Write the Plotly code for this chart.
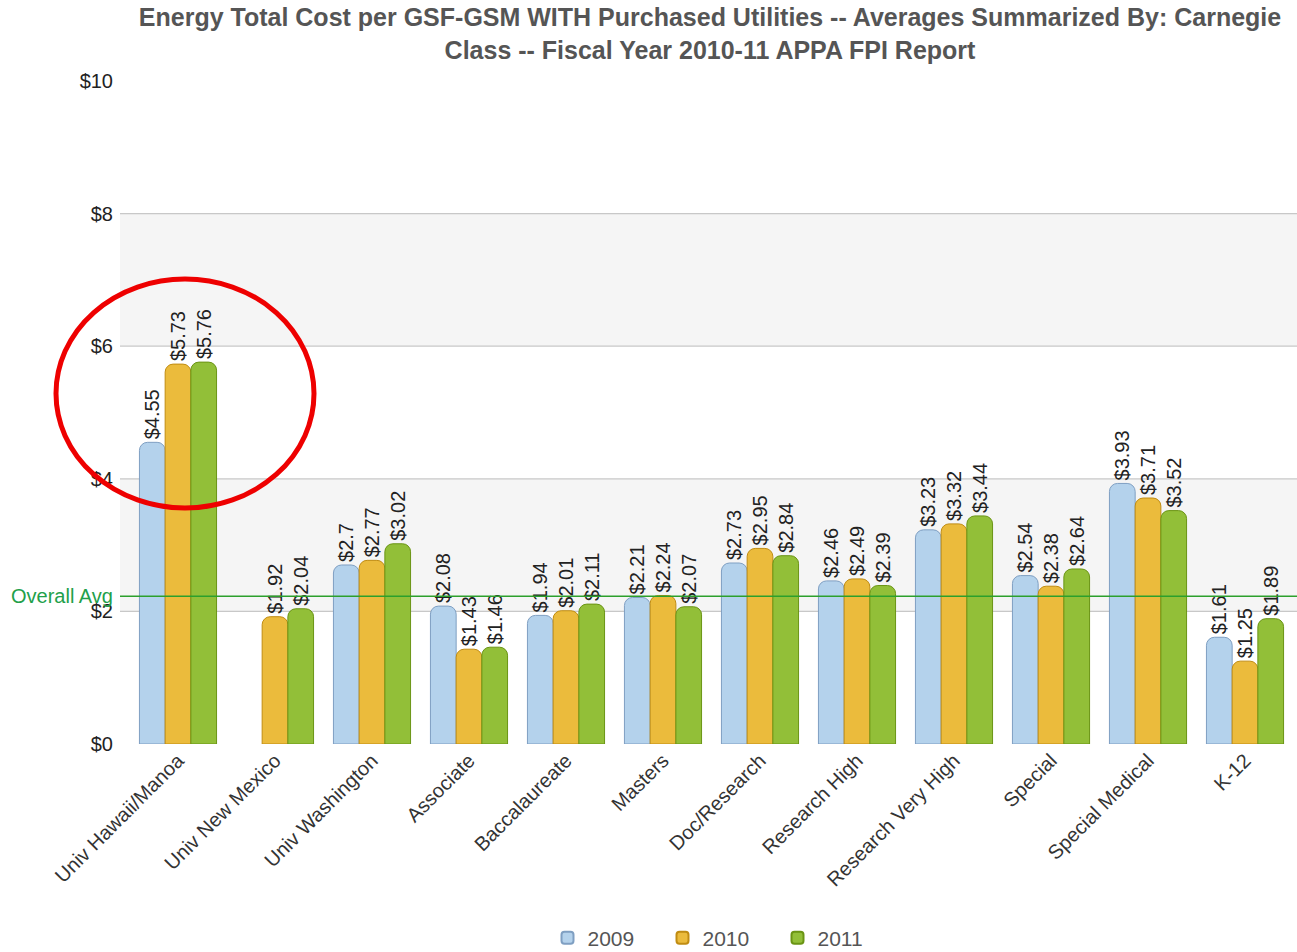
import plotly.graph_objects as go

categories = ["Univ Hawaii/Manoa", "Univ New Mexico", "Univ Washington", "Associate",
              "Baccalaureate", "Masters", "Doc/Research", "Research High",
              "Research Very High", "Special", "Special Medical", "K-12"]
v2009 = [4.55, None, 2.70, 2.08, 1.94, 2.21, 2.73, 2.46, 3.23, 2.54, 3.93, 1.61]
v2010 = [5.73, 1.92, 2.77, 1.43, 2.01, 2.24, 2.95, 2.49, 3.32, 2.38, 3.71, 1.25]
v2011 = [5.76, 2.04, 3.02, 1.46, 2.11, 2.07, 2.84, 2.39, 3.44, 2.64, 3.52, 1.89]
overall_avg = 2.23
series_names = ["2009", "2010", "2011"]
y_ticks = [0, 2, 4, 6, 8, 10]
y_tick_text = ["$0", "$2", "$4", "$6", "$8", "$10"]

W, H = 1297, 952
L, R, T, B = 120, 0, 81, 208
pw, ph = W - L - R, H - T - B

fills = ["#b4d2ec", "#ebbb3c", "#92bf38"]
lines = ["#7f9fc2", "#c08c12", "#6a9414"]
FONT = "Liberation Sans, Arial"

fig = go.Figure()
for name, vals, fc, lc in zip(series_names, [v2009, v2010, v2011], fills, lines):
    fig.add_trace(go.Bar(
        name=name, x=categories, y=vals,
        marker=dict(color=fc, line=dict(color=lc, width=1), cornerradius=8),
        text=[("$%g" % v) if v is not None else "" for v in vals],
        textposition="outside", textangle=-90, constraintext="none",
        cliponaxis=False,
        textfont=dict(family=FONT, size=20, color="#222222"),
    ))

# alternating bands
for y0, y1 in [(2, 4), (6, 8)]:
    fig.add_shape(type="rect", xref="paper", yref="y", x0=0, x1=1, y0=y0, y1=y1,
                  fillcolor="#f5f5f5", line=dict(width=0), layer="below")

# gridlines at 2..8
for gv in [2, 4, 6, 8]:
    fig.add_shape(type="line", xref="paper", yref="y", x0=0, x1=1, y0=gv, y1=gv,
                  line=dict(color="#c8c8c8", width=1.2), layer="below")

# overall average line
fig.add_shape(type="line", xref="paper", yref="y", x0=0, x1=1, y0=overall_avg, y1=overall_avg,
              line=dict(color="#2ca02c", width=1.5), layer="above")
fig.add_annotation(xref="paper", yref="y", x=-0.004, y=overall_avg, text="Overall Avg",
                   showarrow=False, xanchor="right", yanchor="middle",
                   font=dict(family=FONT, size=20, color="#22a04a"))


def px_x(p):
    return (p - L) / pw


def px_y(p):
    return (H - B - p) / ph


# red highlight ellipse
fig.add_shape(type="circle", xref="paper", yref="paper",
              x0=px_x(56), x1=px_x(314), y0=px_y(508), y1=px_y(279),
              line=dict(color="#ee0000", width=5), layer="above")

fig.update_layout(
    width=W, height=H,
    margin=dict(l=L, r=R, t=T, b=B, autoexpand=False),
    paper_bgcolor="white", plot_bgcolor="white",
    barmode="group", bargap=0.205, bargroupgap=0.0,
    title=dict(
        text="Energy Total Cost per GSF-GSM WITH Purchased Utilities -- Averages Summarized By: Carnegie<br>Class -- Fiscal Year 2010-11 APPA FPI Report",
        xref="container", x=710 / W, xanchor="center", y=1 - 26 / H, yanchor="middle",
        font=dict(family=FONT, size=25, color="#555555", weight="bold"),
    ),
    xaxis=dict(
        range=[-0.598, 11.536], tickangle=-45, showgrid=False, showline=False, ticks="",
        tickfont=dict(family=FONT, size=20, color="#333333"),
        zeroline=False, automargin=False,
    ),
    yaxis=dict(
        range=[0, 10], tickvals=y_ticks, ticktext=y_tick_text,
        showgrid=False, zeroline=False, showline=False, ticks="", ticklabelstandoff=6,
        tickfont=dict(family=FONT, size=20, color="#222222"), automargin=False,
    ),
    legend=dict(orientation="h", x=px_x(720), xanchor="center", y=px_y(938), yanchor="middle",
                font=dict(family=FONT, size=21, color="#555555"),
                entrywidth=70, itemsizing="constant"),
)

fig.write_html("out.html", config={"displayModeBar": False},
               post_script="document.body.style.margin='0';document.body.style.overflow='hidden';")
